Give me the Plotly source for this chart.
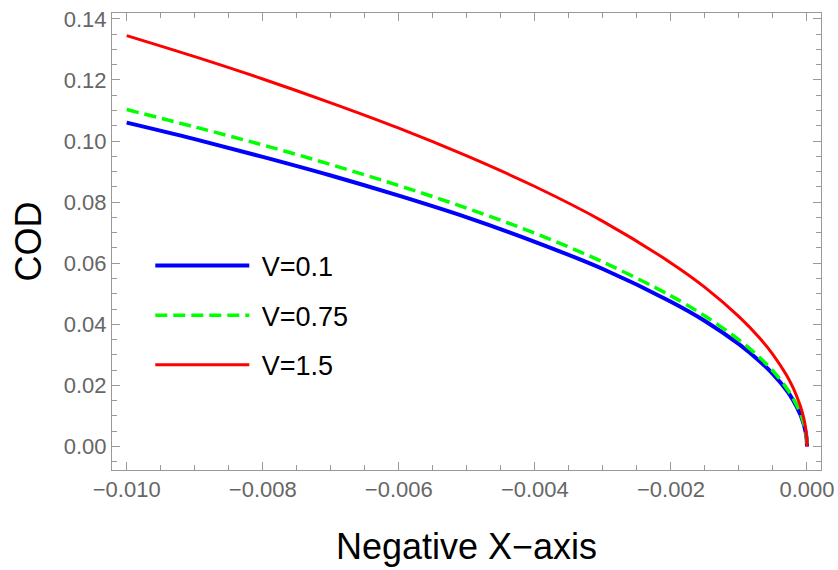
import plotly.graph_objects as go

# x positions (Negative X-axis)
x_vals = [-0.010, -0.009, -0.008, -0.007, -0.006, -0.005, -0.004, -0.003, -0.002,
          -0.0015, -0.001, -0.0007, -0.0005, -0.0003, -0.0002, -0.0001, -0.00005,
          -0.00002, -0.000005, 0.0]

# COD values
cod_v01 = [0.1060, 0.1006, 0.0948, 0.0887, 0.0821, 0.0750, 0.0670, 0.0581, 0.0474,
           0.0411, 0.0335, 0.0280, 0.0237, 0.0184, 0.0150, 0.0106, 0.0075,
           0.0047, 0.0024, 0.0]
cod_v075 = [0.1103, 0.1046, 0.0987, 0.0923, 0.0854, 0.0780, 0.0698, 0.0604, 0.0493,
            0.0427, 0.0349, 0.0292, 0.0247, 0.0191, 0.0156, 0.0110, 0.0078,
            0.0049, 0.0025, 0.0]
cod_v15 = [0.1345, 0.1276, 0.1203, 0.1125, 0.1042, 0.0951, 0.0851, 0.0737, 0.0601,
           0.0521, 0.0425, 0.0356, 0.0301, 0.0233, 0.0190, 0.0134, 0.0095,
           0.0060, 0.0030, 0.0]

series_names = ["V=0.1", "V=0.75", "V=1.5"]

x_tick_vals = [-0.010, -0.008, -0.006, -0.004, -0.002, 0.0]
y_tick_vals = [0.00, 0.02, 0.04, 0.06, 0.08, 0.10, 0.12, 0.14]

FONT = "Liberation Sans, Arial, sans-serif"
NB = "\u00a0"

fig = go.Figure()
fig.add_trace(go.Scatter(x=x_vals, y=cod_v01, mode="lines", name=NB + series_names[0],
                         legendgroup="a",
                         line=dict(color="#0000FF", width=4, shape="spline")))
fig.add_trace(go.Scatter(x=x_vals, y=cod_v075, mode="lines", name=NB + series_names[1],
                         legendgroup="b",
                         line=dict(color="#00FF00", width=3.5, dash="12px,6px", shape="spline")))
fig.add_trace(go.Scatter(x=x_vals, y=cod_v15, mode="lines", name=NB + series_names[2],
                         legendgroup="c",
                         line=dict(color="#FF0000", width=3, shape="spline")))

axis_common = dict(
    showgrid=False, zeroline=False, automargin=False,
    showline=True, linecolor="#999999", linewidth=1, mirror="ticks",
    ticks="inside", ticklen=8, tickcolor="#999999", tickwidth=1,
    ticklabeloverflow="allow",
    tickfont=dict(family=FONT, size=22, color="#666666"),
)

fig.update_xaxes(
    range=[-0.010216, 0.000206], tickvals=x_tick_vals, tickformat=".3f",
    minor=dict(dtick=0.0005, tick0=0, ticks="inside", ticklen=5, tickcolor="#999999"),
    title=dict(text="Negative X\u2212axis", standoff=32,
               font=dict(family=FONT, size=36, color="#000000")),
    **axis_common,
)
fig.update_yaxes(
    range=[-0.0077, 0.1419], tickvals=y_tick_vals, tickformat=".2f",
    minor=dict(dtick=0.005, tick0=0, ticks="inside", ticklen=5, tickcolor="#999999"),
    title=dict(text="COD", standoff=11,
               font=dict(family=FONT, size=36, color="#000000")),
    **axis_common,
)

fig.update_layout(
    width=838, height=570,
    margin=dict(l=112, r=17, t=13, b=100),
    paper_bgcolor="white", plot_bgcolor="white",
    showlegend=True,
    legend=dict(x=0.054, y=0.500, xanchor="left", yanchor="top",
                bgcolor="rgba(0,0,0,0)", itemwidth=94, tracegroupgap=11.5,
                font=dict(family=FONT, size=27, color="#000000")),
)

# remove the browser's default page margin so the figure fills the window exactly
fig.write_html(
    "out.html",
    config={"displayModeBar": False},
    post_script="document.body.style.margin='0';document.body.style.overflow='hidden';",
)
